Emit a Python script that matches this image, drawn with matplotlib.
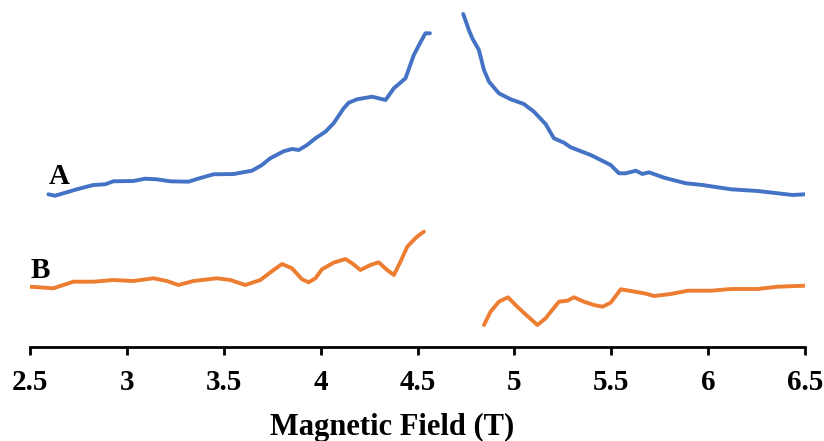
import matplotlib.pyplot as plt

plt.rcParams['font.family'] = 'Liberation Serif'
plt.rcParams['font.weight'] = 'bold'

# Spectrum A (offset upward), two branches either side of the gap
A1_field = [2.595, 2.629, 2.690, 2.741, 2.827, 2.888, 2.930, 3.034, 3.094, 3.155,
            3.224, 3.318, 3.362, 3.447, 3.551, 3.646, 3.697, 3.740, 3.809, 3.852,
            3.887, 3.930, 3.973, 4.025, 4.067, 4.119, 4.145, 4.188, 4.266, 4.335,
            4.378, 4.438, 4.481, 4.516, 4.541, 4.564]
A1_int = [152.4, 151.0, 154.4, 157.4, 161.7, 162.4, 165.4, 165.7, 168.0, 167.4,
          165.4, 165.0, 167.7, 172.4, 172.7, 176.0, 181.7, 188.4, 195.4, 197.7,
          196.7, 201.7, 208.4, 215.0, 223.4, 238.4, 244.0, 247.4, 250.0, 246.7,
          258.4, 268.4, 291.7, 304.7, 313.4, 313.4]

A2_field = [4.736, 4.765, 4.783, 4.817, 4.843, 4.869, 4.920, 4.981, 5.049, 5.101,
            5.161, 5.204, 5.256, 5.291, 5.394, 5.497, 5.540, 5.575, 5.627, 5.661,
            5.695, 5.773, 5.885, 5.971, 6.118, 6.256, 6.436, 6.500]
A2_int = [332.7, 316.7, 308.4, 296.7, 276.7, 265.0, 253.4, 247.4, 242.7, 235.0,
          222.7, 208.4, 204.0, 199.4, 191.7, 181.7, 173.4, 173.4, 176.0, 172.7,
          174.4, 169.0, 163.4, 161.7, 157.4, 155.7, 151.7, 152.4]

# Spectrum B
B1_field = [2.500, 2.620, 2.724, 2.827, 2.930, 3.034, 3.137, 3.206, 3.266, 3.344,
            3.465, 3.534, 3.611, 3.689, 3.757, 3.801, 3.852, 3.904, 3.938, 3.973,
            4.007, 4.067, 4.128, 4.163, 4.205, 4.257, 4.300, 4.343, 4.378, 4.412,
            4.447, 4.490, 4.516, 4.533]
B1_int = [60.0, 58.4, 65.0, 65.0, 66.7, 65.7, 68.4, 65.7, 61.7, 65.7,
          68.4, 66.7, 61.7, 66.7, 76.7, 82.7, 78.4, 67.4, 64.4, 68.4,
          77.4, 84.0, 87.7, 83.4, 76.7, 81.7, 84.4, 76.7, 71.7, 85.0,
          100.0, 108.7, 112.7, 115.0]

B2_field = [4.843, 4.877, 4.920, 4.967, 5.015, 5.067, 5.119, 5.161, 5.230, 5.274,
            5.308, 5.359, 5.411, 5.455, 5.497, 5.549, 5.601, 5.670, 5.721, 5.807,
            5.894, 6.014, 6.118, 6.256, 6.359, 6.500]
B2_int = [21.7, 35.0, 45.0, 49.4, 40.0, 30.7, 21.7, 28.4, 45.0, 46.0,
          49.4, 45.0, 41.7, 40.0, 44.0, 57.4, 55.7, 53.4, 50.7, 52.7,
          56.0, 56.0, 57.7, 57.7, 60.0, 61.0]

blue = '#4472C4'
orange = '#ED7D31'

fig = plt.figure(figsize=(8.24, 4.41), dpi=100)
ax = fig.add_axes([30 / 824, 94.3 / 441, 775 / 824, 346.7 / 441])

lw = 2.8
ax.plot(A1_field, A1_int, color=blue, lw=lw, solid_capstyle='round', solid_joinstyle='round')
ax.plot(A2_field, A2_int, color=blue, lw=lw, solid_capstyle='round', solid_joinstyle='round')
ax.plot(B1_field, B1_int, color=orange, lw=lw, solid_capstyle='round', solid_joinstyle='round')
ax.plot(B2_field, B2_int, color=orange, lw=lw, solid_capstyle='round', solid_joinstyle='round')

ax.text(2.65, 170, 'A', fontsize=21, fontweight='bold', ha='center', va='center')
ax.text(2.552, 76.7, 'B', fontsize=21, fontweight='bold', ha='center', va='center')

ax.set_xlim(2.5, 6.5)
ax.set_ylim(0, 346.7)
ax.set_xticks([2.5, 3, 3.5, 4, 4.5, 5, 5.5, 6, 6.5])
ax.set_xticklabels(['2.5', '3', '3.5', '4', '4.5', '5', '5.5', '6', '6.5'])
ax.set_yticks([])
for s in ['left', 'top', 'right']:
    ax.spines[s].set_visible(False)
ax.spines['bottom'].set_linewidth(2)
ax.tick_params(axis='x', direction='out', length=6, width=2, labelsize=21, pad=10)
ax.set_xlabel('Magnetic Field (T)', fontsize=22, fontweight='bold')
ax.xaxis.set_label_coords(0.467, -0.19)
ax.patch.set_alpha(0)

fig.savefig('out.png', dpi=100)
